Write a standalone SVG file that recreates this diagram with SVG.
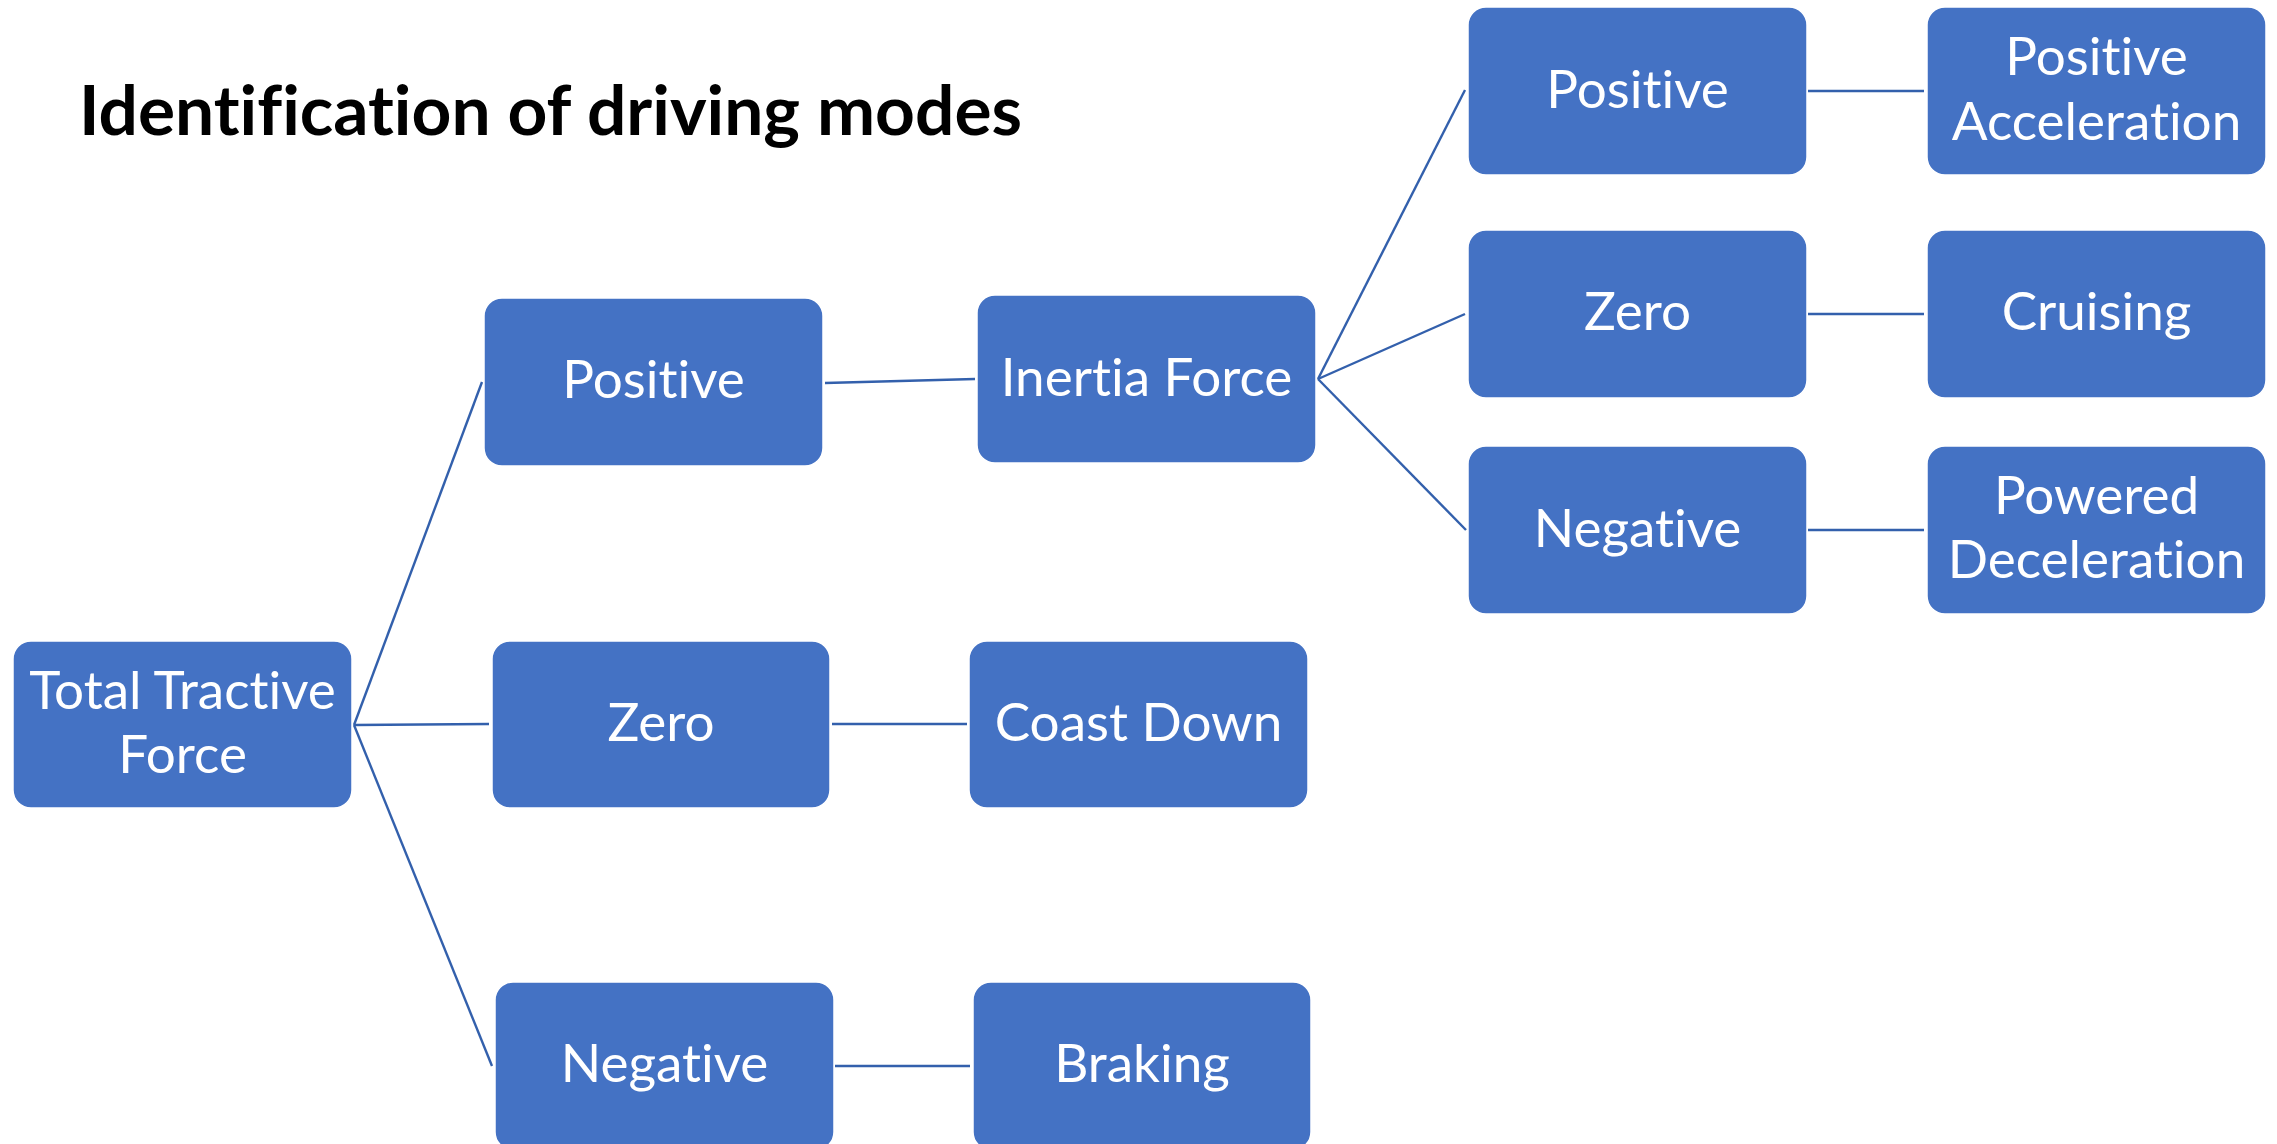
<svg xmlns="http://www.w3.org/2000/svg" width="2277" height="1144" viewBox="0 0 2277 1144">
  <style>
    .box { fill: #4472C4; stroke: #FFFFFF; stroke-width: 1.5; }
    .lbl { font-family: Lato, "Liberation Sans", sans-serif; font-size: 53px; fill: #FFFFFF; text-anchor: middle; font-variant-ligatures: none; font-feature-settings: "liga" 0, "clig" 0; }
    .title { font-family: Lato, "Liberation Sans", sans-serif; font-size: 68px; font-weight: bold; fill: #000000; font-variant-ligatures: none; font-feature-settings: "liga" 0, "clig" 0; }
    .link { stroke: #3360AC; stroke-width: 2.4; fill: none; }
  </style>
  <rect width="2277" height="1144" fill="#FFFFFF"/>

  <text class="title" x="79" y="135" textLength="943" lengthAdjust="spacingAndGlyphs">Identification of driving modes</text>

  <!-- tree connectors -->
  <g id="connectors">
    <line class="link" x1="354" y1="725" x2="482" y2="382"/>
    <line class="link" x1="354" y1="725" x2="489" y2="724"/>
    <line class="link" x1="354" y1="725" x2="492" y2="1066"/>
    <line class="link" x1="825" y1="383" x2="975" y2="379"/>
    <line class="link" x1="832" y1="724" x2="967" y2="724"/>
    <line class="link" x1="835" y1="1066" x2="970" y2="1066"/>
    <line class="link" x1="1318" y1="379" x2="1465" y2="90"/>
    <line class="link" x1="1318" y1="379" x2="1465" y2="314"/>
    <line class="link" x1="1318" y1="379" x2="1466" y2="530"/>
    <line class="link" x1="1808" y1="91" x2="1924" y2="91"/>
    <line class="link" x1="1808" y1="314" x2="1924" y2="314"/>
    <line class="link" x1="1808" y1="530" x2="1924" y2="530"/>
  </g>

  <g id="total-tractive-force">
    <rect class="box" x="13" y="641" width="339" height="167" rx="18"/>
    <text class="lbl" x="182.5" y="709">Total Tractive</text>
    <text class="lbl" x="182.5" y="773">Force</text>
  </g>

  <g id="ttf-positive">
    <rect class="box" x="484" y="298" width="339" height="168" rx="18"/>
    <text class="lbl" x="653.5" y="398">Positive</text>
  </g>

  <g id="ttf-zero">
    <rect class="box" x="492" y="641" width="338" height="167" rx="18"/>
    <text class="lbl" x="661" y="741">Zero</text>
  </g>

  <g id="ttf-negative">
    <rect class="box" x="495" y="982" width="339" height="168" rx="18"/>
    <text class="lbl" x="664.5" y="1082">Negative</text>
  </g>

  <g id="inertia-force">
    <rect class="box" x="977" y="295" width="339" height="168" rx="18"/>
    <text class="lbl" x="1146.5" y="396">Inertia Force</text>
  </g>

  <g id="coast-down">
    <rect class="box" x="969" y="641" width="339" height="167" rx="18"/>
    <text class="lbl" x="1138.5" y="741">Coast Down</text>
  </g>

  <g id="braking">
    <rect class="box" x="973" y="982" width="338" height="168" rx="18"/>
    <text class="lbl" x="1142" y="1082">Braking</text>
  </g>

  <g id="inertia-positive">
    <rect class="box" x="1468" y="7" width="339" height="168" rx="18"/>
    <text class="lbl" x="1637.5" y="108">Positive</text>
  </g>

  <g id="inertia-zero">
    <rect class="box" x="1468" y="230" width="339" height="168" rx="18"/>
    <text class="lbl" x="1637.5" y="330">Zero</text>
  </g>

  <g id="inertia-negative">
    <rect class="box" x="1468" y="446" width="339" height="168" rx="18"/>
    <text class="lbl" x="1637.5" y="547">Negative</text>
  </g>

  <g id="positive-acceleration">
    <rect class="box" x="1927" y="7" width="339" height="168" rx="18"/>
    <text class="lbl" x="2096.5" y="75">Positive</text>
    <text class="lbl" x="2096.5" y="140">Acceleration</text>
  </g>

  <g id="cruising">
    <rect class="box" x="1927" y="230" width="339" height="168" rx="18"/>
    <text class="lbl" x="2096.5" y="330">Cruising</text>
  </g>

  <g id="powered-deceleration">
    <rect class="box" x="1927" y="446" width="339" height="168" rx="18"/>
    <text class="lbl" x="2096.5" y="514">Powered</text>
    <text class="lbl" x="2096.5" y="578">Deceleration</text>
  </g>
</svg>
